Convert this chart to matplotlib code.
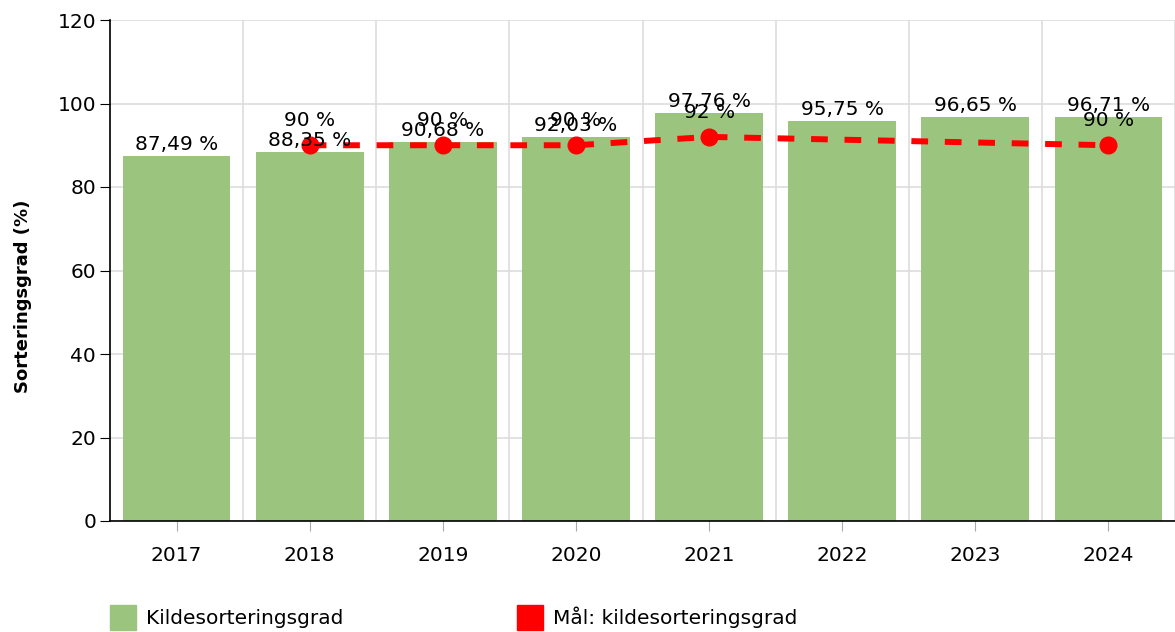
import matplotlib.pyplot as plt
import numpy as np
from matplotlib.patches import Patch

years = ['2017', '2018', '2019', '2020', '2021', '2022', '2023', '2024']
grad = [87.49, 88.35, 90.68, 92.03, 97.76, 95.75, 96.65, 96.71]
maal = [None, 90, 90, 90, 92, None, None, 90]

green = '#9bc57f'
red = '#ff0000'
fs = 14.5


def fmt(v):
    s = f'{v:.2f}'.rstrip('0').rstrip('.') if v != int(v) else f'{int(v)}'
    return s.replace('.', ',') + ' %'


fig = plt.figure(figsize=(11.75, 6.32), dpi=100)
ax = fig.add_axes([110 / 1175, 1 - 521 / 632, 1065 / 1175, 501 / 632])

x = np.arange(len(years))
ax.bar(x, grad, width=0.81, color=green, zorder=2)
for xi, v in zip(x, grad):
    ax.annotate(fmt(v), (xi, v), xytext=(0, 1.5), textcoords='offset points',
                ha='center', va='bottom', fontsize=fs, zorder=5)

mx = [xi for xi, m in zip(x, maal) if m is not None]
my = [m for m in maal if m is not None]
ax.plot(mx, my, color=red, lw=4.3, dashes=(2.8, 2.8), marker='o',
        markersize=12, zorder=4)
for xi, m in zip(mx, my):
    ax.annotate(fmt(m), (xi, m), xytext=(0, 11), textcoords='offset points',
                ha='center', va='bottom', fontsize=fs, zorder=5)

ax.set_xlim(-0.5, len(years) - 0.5)
ax.set_ylim(0, 120)
ax.set_yticks(range(0, 121, 20))
ax.set_xticks(x)
ax.set_xticklabels(years)
ax.set_xticks(np.arange(-0.5, len(years), 1), minor=True)
ax.grid(True, axis='y', color='#dddddd', lw=1.2, zorder=0)
ax.grid(True, axis='x', which='minor', color='#dddddd', lw=1.2, zorder=0)
ax.tick_params(axis='x', which='minor', length=0)
ax.tick_params(axis='x', which='major', length=7, color='#aaaaaa',
               labelsize=fs, pad=11)
ax.tick_params(axis='y', length=7, labelsize=fs, pad=3)
for s in ['top', 'right']:
    ax.spines[s].set_visible(False)
ax.spines['left'].set_linewidth(1.2)
ax.spines['bottom'].set_linewidth(1.2)
ax.set_ylabel('Sorteringsgrad (%)', fontsize=13, fontweight='bold')
ax.yaxis.set_label_coords(-78 / 1065, 0.449)

handles = [Patch(facecolor=green, edgecolor=green),
           Patch(facecolor=red, edgecolor=red)]
fig.legend(handles, ['Kildesorteringsgrad', 'Mål: kildesorteringsgrad'],
           loc='lower left', bbox_to_anchor=(92 / 1175, -0.025), ncol=2,
           frameon=False, fontsize=fs, handlelength=1.3, handleheight=1.5,
           columnspacing=8.6, handletextpad=0.5)

fig.savefig('out.png', dpi=100)
